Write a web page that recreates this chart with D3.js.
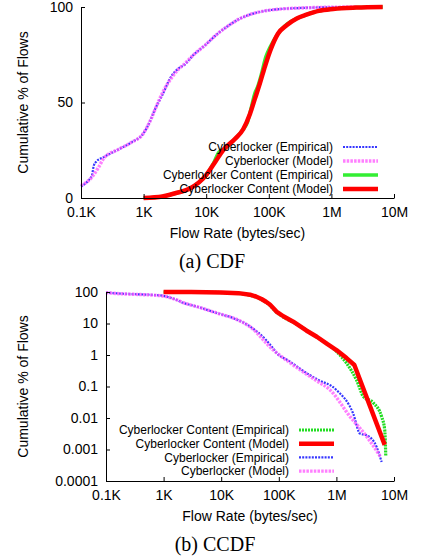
<!DOCTYPE html>
<html>
<head>
<meta charset="utf-8">
<script src="https://cdn.jsdelivr.net/npm/d3@7"></script>
<style>
  body { margin: 0; background: #fff; }
  svg text { font-family: "Liberation Sans", Arial, sans-serif; fill: #000; }
</style>
</head>
<body>
<div id="chart"></div>
<script>
// Tick values and labels
const rateTicks = [1e2, 1e3, 1e4, 1e5, 1e6, 1e7];
const rateLabels = ['0.1K', '1K', '10K', '100K', '1M', '10M'];
const cdfTicks = [0, 50, 100];
const ccdfTicks = [100, 10, 1, 0.1, 0.01, 0.001, 0.0001];
const ccdfLabels = ['100', '10', '1', '0.1', '0.01', '0.001', '0.0001'];

// (a) CDF series: [flow rate bytes/sec, cumulative %]
const cdfLockerEmp = [[100,6],[130,9],[150,12],[160,17],[175,19],[234,21.5],[400,25.5],[630,29],[1000,34],[1260,40],[1500,46],[2000,54],[2800,64],[3500,67.5],[4600,70],[6300,75],[9600,80],[14000,85],[20000,89],[35000,94],[63000,97],[120000,98.6],[400000,99.6],[1000000,99.9],[2500000,100]];
const cdfLockerModel = [[100,6.5],[150,11],[190,16],[234,21],[400,25.5],[630,29],[1000,34],[1300,41],[1600,48],[2000,55],[2800,63],[3500,67],[4600,70.5],[6300,75],[9600,80],[14000,85],[20000,89],[35000,94],[63000,97],[120000,98.6],[400000,99.6],[1000000,99.9],[2500000,100]];
const cdfContentEmp = [[1000,0],[2000,0.8],[3200,2.5],[5500,5],[10000,12],[13000,18],[16000,24],[20000,26],[29000,31],[39000,36],[46000,40],[53000,48],[60000,55],[66000,58],[75000,64],[90000,74],[105000,79],[140000,86],[195000,91],[280000,94],[400000,96],[630000,98],[1070000,99],[2500000,99.7],[6600000,100]];
const cdfContentModel = [[1000,0],[2000,0.8],[3200,2.5],[5500,5],[10000,12],[14000,19],[18600,25],[29000,31],[39000,36],[50000,44],[60000,52],[72000,60],[87000,69],[105000,77],[140000,86],[195000,90.6],[280000,94],[400000,96],[630000,98],[1070000,99],[2500000,99.7],[6600000,100]];

// (b) CCDF series: [flow rate bytes/sec, complementary cumulative %]
const ccdfLockerEmp = [[100,96],[200,88],[400,84],[700,80],[1000,75],[1300,66],[1700,56],[2200,45],[2900,39],[4300,32],[7000,24],[10000,19.5],[16000,15],[31600,8],[60000,3],[80000,1.6],[90000,1.2],[150000,0.65],[300000,0.27],[460000,0.17],[1000000,0.078],[1950000,0.014],[2570000,0.0032],[3400000,0.0028],[5000000,0.0012],[6100000,0.0004]];
const ccdfLockerModel = [[100,95],[200,87],[400,83],[700,79],[1000,74],[1300,66],[1700,56],[2200,46],[2900,39],[4300,32],[7000,24],[10000,19.5],[16000,15],[31600,7.9],[80000,1.44],[150000,0.6],[300000,0.25],[460000,0.15],[776000,0.078],[1730000,0.011],[3400000,0.0025],[5800000,0.0006]];
const ccdfContentEmp = [[1000,100],[3000,99],[10000,96],[20000,90],[31600,79],[50000,58],[70000,38],[91000,23],[120000,16],[178000,11],[457000,3.7],[1000000,1.3],[1500000,0.55],[2240000,0.16],[2950000,0.048],[4400000,0.03],[6100000,0.011],[6900000,0.0042],[7200000,0.0006]];
const ccdfContentModel = [[1000,100],[3000,99.5],[10000,97],[20000,92],[31600,82],[40000,72],[50000,60],[60000,49],[70000,40],[80000,31],[91000,24],[120000,17],[178000,11.4],[300000,6],[457000,3.8],[700000,2.2],[1000000,1.44],[1500000,0.8],[2050000,0.48],[6900000,0.0014]];

const width = 438, height = 559;

// line styles
const styles = {
  lockerEmp:   { stroke: '#3636ff', width: 2.2, dash: '2,1.2', opacity: 1 },
  lockerModel: { stroke: '#ff55ff', width: 3.4, dash: '2.5,1.2', opacity: 0.75 },
  contentEmp:  { stroke: '#33ee33', width: 3.5, dash: null, opacity: 1 },
  contentEmpDot: { stroke: '#22dd22', width: 3.2, dash: '2,1', opacity: 1 },
  contentModel: { stroke: '#ff0000', width: 4.5, dash: null, opacity: 1 }
};

let svg = d3.select('#chart')
            .append('svg')
            .attr('width', width)
            .attr('height', height)
            .style('background', '#fff');

function drawPanel(p) {
  let g = svg.append('g');

  // series lines
  p.series.forEach(s => {
    let st = styles[s.style];
    let line = d3.line()
                 .x(d => p.x(d[0]))
                 .y(d => p.y(d[1]))
                 .curve(s.linear ? d3.curveLinear : d3.curveMonotoneX);
    g.append('path')
     .datum(s.data)
     .attr('d', line)
     .attr('fill', 'none')
     .attr('stroke', st.stroke)
     .attr('stroke-width', st.width)
     .attr('stroke-linejoin', 'round')
     .attr('stroke-dasharray', st.dash)
     .attr('opacity', st.opacity);
  });

  // axes
  let xaxis = g.append('g')
     .attr('transform', `translate(0, ${p.y.range()[0]})`)
     .call(d3.axisBottom(p.x)
             .tickValues(rateTicks)
             .tickFormat(d => rateLabels[rateTicks.indexOf(d)])
             .tickSizeInner(-4).tickSizeOuter(0).tickPadding(9));

  let yaxis = g.append('g')
     .attr('transform', `translate(${p.x.range()[0]}, 0)`)
     .call(d3.axisLeft(p.y)
             .tickValues(p.yTicks)
             .tickFormat(p.yFormat)
             .tickSizeInner(-4).tickSizeOuter(0).tickPadding(8));

  [xaxis, yaxis].forEach(a => {
    a.attr('font-size', 14).attr('font-family', '"Liberation Sans", Arial, sans-serif');
    a.selectAll('path, line').attr('stroke', '#000');
  });

  // axis titles
  g.append('text')
   .attr('x', (p.x.range()[0] + p.x.range()[1]) / 2)
   .attr('y', p.y.range()[0] + 40)
   .attr('text-anchor', 'middle')
   .style('font-size', '14px')
   .text('Flow Rate (bytes/sec)');

  g.append('text')
   .attr('transform', `translate(28, ${(p.y.range()[0] + p.y.range()[1]) / 2}) rotate(-90)`)
   .attr('text-anchor', 'middle')
   .style('font-size', '14px')
   .text('Cumulative % of Flows');

  // legend
  let legend = g.selectAll('.legend')
     .data(p.legend)
     .enter()
     .append('g')
     .attr('transform', (d, i) => `translate(0, ${p.legendTop + i * p.legendStep})`);

  legend.append('text')
     .attr('x', p.legendX)
     .attr('y', 0)
     .attr('dy', '0.35em')
     .attr('text-anchor', 'end')
     .style('font-size', '12px')
     .text(d => d.label);

  legend.append('line')
     .attr('x1', p.legendX + 10)
     .attr('x2', p.legendX + 45)
     .attr('y1', 0).attr('y2', 0)
     .attr('stroke', d => styles[d.style].stroke)
     .attr('stroke-width', d => styles[d.style].width)
     .attr('stroke-dasharray', d => styles[d.style].dash)
     .attr('opacity', d => styles[d.style].opacity);

  // caption
  svg.append('text')
     .attr('x', p.captionX)
     .attr('y', p.captionY)
     .attr('text-anchor', 'middle')
     .style('font-family', '"Liberation Serif", "Times New Roman", serif')
     .style('font-size', '20px')
     .text(p.caption);
}

// (a) CDF
drawPanel({
  x: d3.scaleLog().domain([1e2, 1e7]).range([81, 394]),
  y: d3.scaleLinear().domain([0, 100]).range([198, 7]),
  yTicks: cdfTicks,
  yFormat: d => d,
  series: [
    { data: cdfLockerEmp, style: 'lockerEmp' },
    { data: cdfLockerModel, style: 'lockerModel' },
    { data: cdfContentEmp, style: 'contentEmp' },
    { data: cdfContentModel, style: 'contentModel' }
  ],
  legend: [
    { label: 'Cyberlocker (Empirical)', style: 'lockerEmp' },
    { label: 'Cyberlocker (Model)', style: 'lockerModel' },
    { label: 'Cyberlocker Content (Empirical)', style: 'contentEmp' },
    { label: 'Cyberlocker Content (Model)', style: 'contentModel' }
  ],
  legendX: 333, legendTop: 147, legendStep: 14,
  caption: '(a) CDF', captionX: 212, captionY: 268
});

// (b) CCDF
drawPanel({
  x: d3.scaleLog().domain([1e2, 1e7]).range([106, 394]),
  y: d3.scaleLog().domain([1e-4, 100]).range([481, 292]),
  yTicks: ccdfTicks,
  yFormat: d => ccdfLabels[ccdfTicks.indexOf(d)],
  series: [
    { data: ccdfContentEmp, style: 'contentEmpDot' },
    { data: ccdfContentModel, style: 'contentModel', linear: true },
    { data: ccdfLockerEmp, style: 'lockerEmp' },
    { data: ccdfLockerModel, style: 'lockerModel' }
  ],
  legend: [
    { label: 'Cyberlocker Content (Empirical)', style: 'contentEmpDot' },
    { label: 'Cyberlocker Content (Model)', style: 'contentModel' },
    { label: 'Cyberlocker (Empirical)', style: 'lockerEmp' },
    { label: 'Cyberlocker (Model)', style: 'lockerModel' }
  ],
  legendX: 289, legendTop: 430, legendStep: 13.7,
  caption: '(b) CCDF', captionX: 215, captionY: 551
});
</script>
</body>
</html>
